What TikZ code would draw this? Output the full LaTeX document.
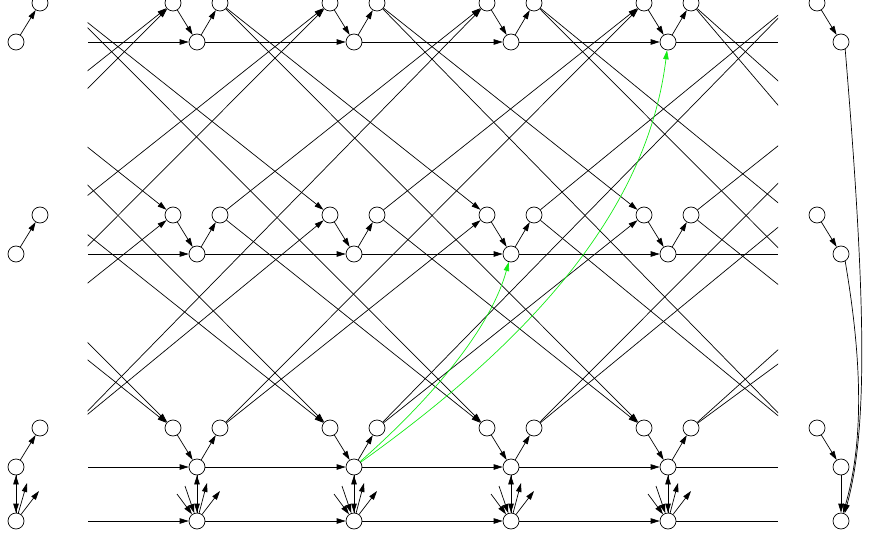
\documentclass[tikz,border=0pt]{standalone}
\usepackage{tikz}
\usetikzlibrary{arrows.meta,calc,backgrounds}
\definecolor{routecol}{RGB}{20,235,20}

\begin{document}
\begin{tikzpicture}[x=1pt,y=-1pt,
   vtx/.style={circle,draw,fill=white,minimum size=16pt,inner sep=0pt,line width=0.7pt},
   link/.style={-{Triangle[length=9pt,width=5.5pt]},line width=0.7pt},
   wire/.style={line width=0.7pt},
   route/.style={link,routecol}]
  \useasboundingbox (0,0) rectangle (869,545);

  % three stages of the grid, plus the side columns
  \foreach \r/\y in {0/42,1/254,2/467} {
    \foreach \c in {0,...,3} {
      \node[vtx] (D-\c-\r) at (197+157*\c,\y) {};
      \node[vtx] (L-\c-\r) at (173+157*\c,\y-39) {};
      \node[vtx] (R-\c-\r) at (220+157*\c,\y-39) {};
    }
    \foreach \c in {-3,-2,-1,5,6} {
      \coordinate (L-\c-\r) at (173+157*\c,\y-39);
      \coordinate (R-\c-\r) at (220+157*\c,\y-39);
    }
    \coordinate (L-4-\r) at (793,\y-39);
    \node[vtx] (lft-\r)   at (16,\y) {};
    \node[vtx] (lftup-\r) at (40,\y-39) {};
    \node[vtx] (rgtup-\r) at (817,\y-39) {};
    \node[vtx] (rgt-\r)   at (841,\y) {};
  }
  % off-page ends that sit off the regular grid
  \coordinate (R--1-2) at (71,428);
  \coordinate (L-5-1) at (928,215);
  \coordinate (L-6-0) at (1269,3);
  \coordinate (L-6-2) at (1053,428);
  % bottom line
  \foreach \c in {0,...,3}
    \node[vtx] (D-\c-3) at (197+157*\c,521) {};
  \node[vtx] (lftb) at (16,521) {};
  \node[vtx] (rgtb) at (841,521) {};

  \begin{scope}[on background layer]
    % horizontal rails
    \foreach \r/\y in {0/42,1/254,2/467,3/521} {
      \coordinate (hin-\r)  at (88,\y);
      \coordinate (hout-\r) at (778,\y);
      \draw[link] (hin-\r) -- (D-0-\r);
      \draw[link] (D-0-\r) -- (D-1-\r);
      \draw[link] (D-1-\r) -- (D-2-\r);
      \draw[link] (D-2-\r) -- (D-3-\r);
      \draw[wire] (D-3-\r) -- (hout-\r);
    }
    % inside each cell
    \foreach \r in {0,1,2} {
      \foreach \c in {0,...,3} {
        \draw[link] (L-\c-\r) -- (D-\c-\r);
        \draw[link] (D-\c-\r) -- (R-\c-\r);
      }
      \draw[link] (lft-\r) -- (lftup-\r);
      \draw[link] (rgtup-\r) -- (rgt-\r);
    }
    % crossing links between stages
    \begin{scope}
      \clip (87.5,-20) rectangle (778,560);
      \foreach \c in {-3,...,3} {
        \pgfmathtruncatemacro\ca{\c+2}
        \pgfmathtruncatemacro\cb{\c+3}
        \draw[link] (R-\c-0) -- (L-\ca-1);
        \draw[link] (R-\c-1) -- (L-\ca-0);
        \draw[link] (R-\c-1) -- (L-\ca-2);
        \draw[link] (R-\c-2) -- (L-\ca-1);
        \draw[link] (R-\c-0) -- (L-\cb-2);
        \draw[link] (R-\c-2) -- (L-\cb-0);
      }
    \end{scope}
    % fans at the bottom line
    \foreach \c in {0,...,3} {
      \coordinate (up1-\c) at ($(D-\c-3)+(10,-38)$);
      \coordinate (up2-\c) at ($(D-\c-3)+(23,-30)$);
      \coordinate (dn1-\c) at ($(D-\c-3)+(-20,-27)$);
      \coordinate (dn2-\c) at ($(D-\c-3)+(-12,-35)$);
      \draw[link] (D-\c-3) -- (D-\c-2);
      \draw[link] (D-\c-2) -- (D-\c-3);
      \draw[link] (D-\c-3) -- (up1-\c);
      \draw[link] (D-\c-3) -- (up2-\c);
      \draw[link] (dn1-\c) -- (D-\c-3);
      \draw[link] (dn2-\c) -- (D-\c-3);
    }
    \coordinate (lup1) at ($(lftb)+(11,-38)$);
    \coordinate (lup2) at ($(lftb)+(23,-30)$);
    \draw[link] (lftb) -- (lft-2);
    \draw[link] (lft-2) -- (lftb);
    \draw[link] (lftb) -- (lup1);
    \draw[link] (lftb) -- (lup2);
    % right column into the last node
    \draw[link] (rgt-2) -- (rgtb);
    \draw[link] (rgt-0.-60) .. controls (866,300) and (868,430) .. (rgtb.65);
    \draw[link] (rgt-1.-60) .. controls (862,360) and (864,440) .. (rgtb.75);
    % highlighted routes
    \draw[route] (D-1-2) .. controls (560,320) and (650,190) .. (D-3-0);
    \draw[route] (D-1-2) .. controls (430,400) and (490,330) .. (D-2-1);
  \end{scope}
\end{tikzpicture}
\end{document}
